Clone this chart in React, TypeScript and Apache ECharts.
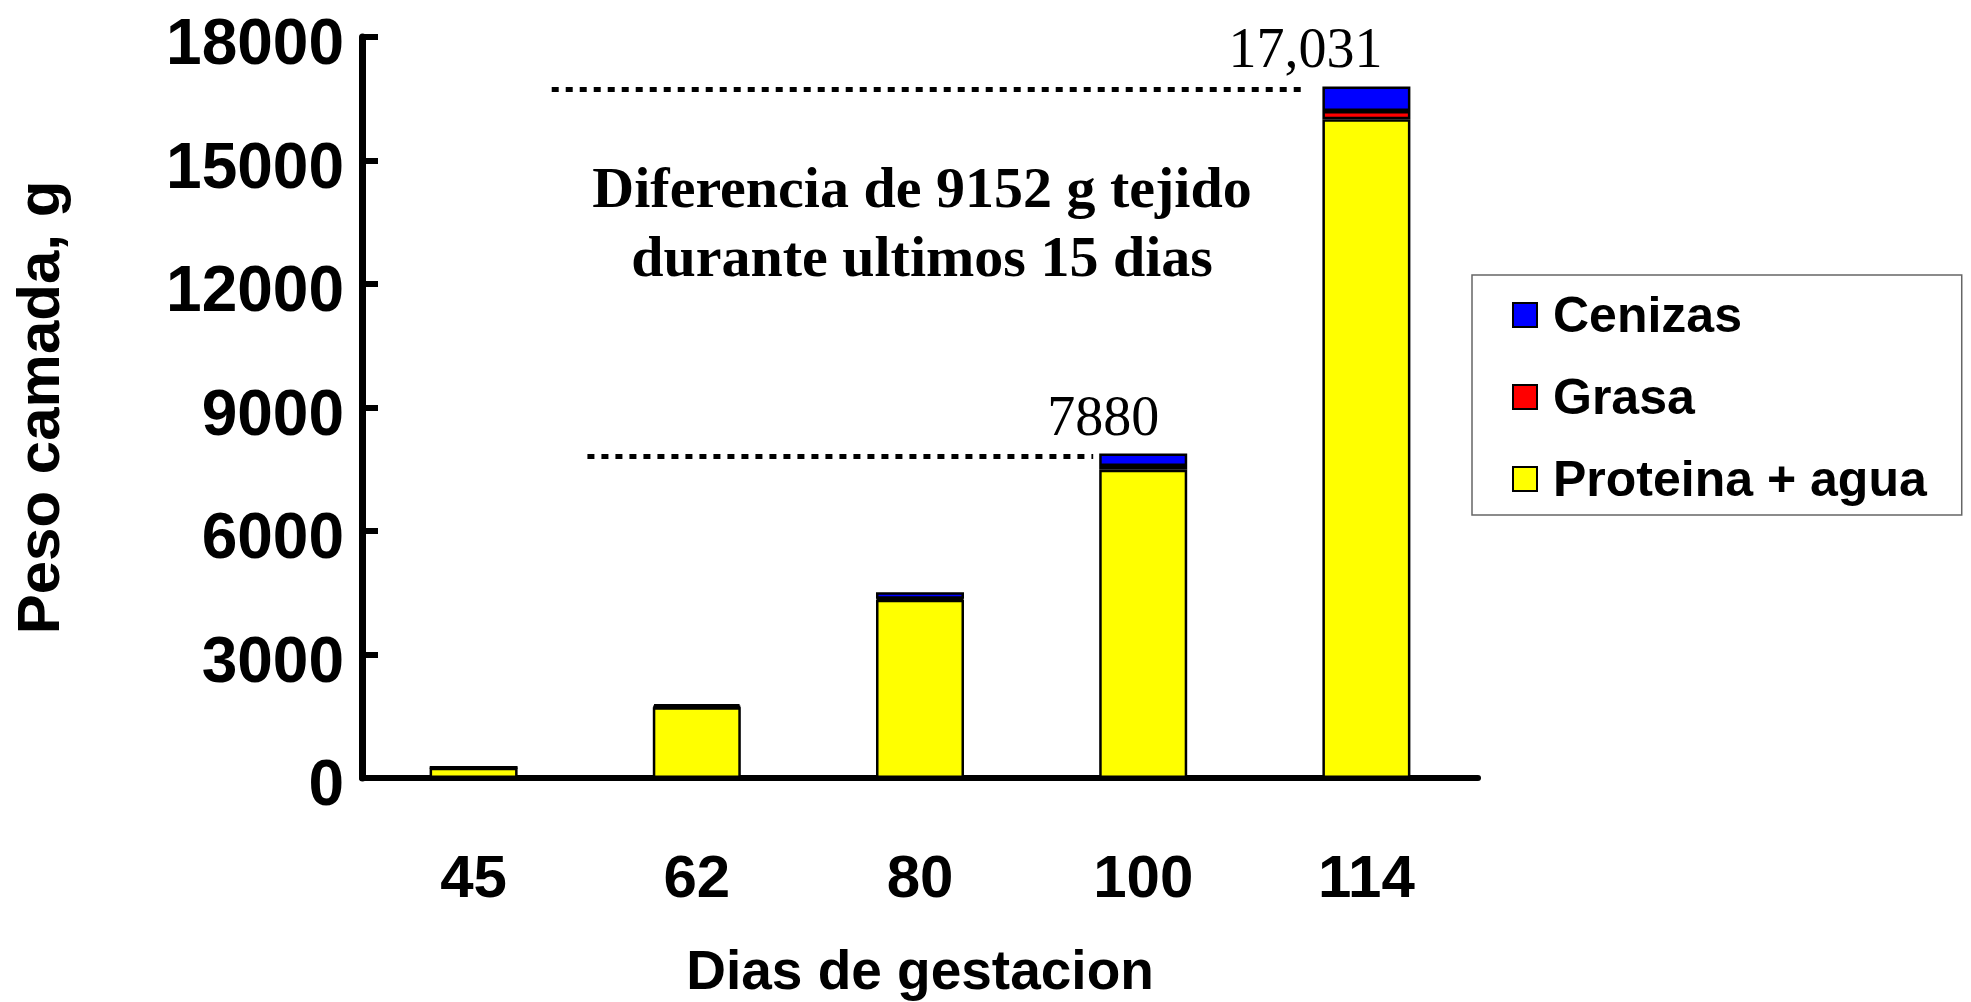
import React, { useEffect, useRef } from "react";
import * as echarts from "echarts";

const categories = ["45", "62", "80", "100", "114"];
const proteinaAgua = [250, 1720, 4330, 7490, 16000];
const grasa = [5, 20, 25, 90, 200];
const cenizas = [15, 60, 160, 300, 600];
const topLabels = ["", "", "", "7880", "17,031"];
const yTicks = [0, 3000, 6000, 9000, 12000, 15000, 18000];
const annotation = ["Diferencia de 9152 g tejido", "durante ultimos 15 dias"];

const SANS = "'Liberation Sans', Arial, sans-serif";
const SERIF = "'Liberation Serif', 'Times New Roman', serif";

export default function App() {
  const ref = useRef<HTMLDivElement>(null);
  useEffect(() => {
    if (!ref.current) return;
    const chart = echarts.init(ref.current, null, { renderer: "svg" });
    const barStyle = (color: string) => ({ color, borderColor: "#000", borderWidth: 2.5 });
    const totals = categories.map((_, i) => proteinaAgua[i] + grasa[i] + cenizas[i]);
    const option: any = {
      animation: false,
      backgroundColor: "#fff",
      grid: { left: 356, right: 493, top: 32.5, bottom: 219.5, containLabel: false },
      legend: {
        orient: "vertical",
        left: 1472,
        top: 275,
        data: ["Cenizas", "Grasa", "Proteina + agua"],
        itemWidth: 24,
        itemHeight: 24,
        itemGap: 32,
        padding: [15, 35, 11, 40],
        borderColor: "#666",
        borderWidth: 1.5,
        icon: "rect",
        textStyle: { fontFamily: SANS, fontWeight: "bold", fontSize: 50, color: "#000", lineHeight: 50, padding: [0, 0, 0, 11] },
      },
      xAxis: {
        type: "category",
        data: categories,
        axisLine: { show: true, lineStyle: { color: "#000", width: 6 } },
        axisTick: { show: false },
        axisLabel: { fontFamily: SANS, fontWeight: "bold", fontSize: 60, color: "#000", margin: 68 },
        name: "Dias de gestacion",
        nameLocation: "middle",
        nameGap: 164,
        nameTextStyle: { fontFamily: SANS, fontWeight: "bold", fontSize: 55, color: "#000" },
      },
      yAxis: {
        type: "value",
        min: yTicks[0],
        max: yTicks[yTicks.length - 1],
        interval: 3000,
        axisLine: { show: true, lineStyle: { color: "#000", width: 7 } },
        axisTick: { show: true, inside: true, length: 16, lineStyle: { color: "#000", width: 6 } },
        splitLine: { show: false },
        axisLabel: {
          margin: 18,
          formatter: (v: number) => `{v|${v}}`,
          rich: {
            v: {
              fontFamily: SANS,
              fontWeight: "bold",
              fontSize: 64,
              lineHeight: 46,
              padding: [10, 0, 0, 0],
              color: "#000",
            },
          },
        },
        name: "Peso camada, g",
        nameLocation: "middle",
        nameGap: 294,
        nameRotate: 90,
        nameTextStyle: { fontFamily: SANS, fontWeight: "bold", fontSize: 60, color: "#000" },
      },
      series: [
        { name: "Proteina + agua", type: "bar", stack: "t", barWidth: 88, data: proteinaAgua, itemStyle: barStyle("#FFFF00") },
        { name: "Grasa", type: "bar", stack: "t", barWidth: 88, data: grasa, itemStyle: barStyle("#FF0000") },
        {
          name: "Cenizas",
          type: "bar",
          stack: "t",
          barWidth: 88,
          itemStyle: barStyle("#0000FF"),
          data: cenizas.map((v, i) =>
            topLabels[i]
              ? {
                  value: v,
                  label: {
                    show: true,
                    position: "top",
                    align: "right",
                    distance: 6,
                    offset: [16, -4],
                    formatter: topLabels[i],
                    fontFamily: SERIF,
                    fontSize: 56,
                    color: "#000",
                  },
                }
              : v
          ),
        },
      ],
    };
    chart.setOption(option);

    const p = (i: number, v: number) => chart.convertToPixel({ xAxisIndex: 0, yAxisIndex: 0 }, [i, v]) as number[];
    const band = p(1, 0)[0] - p(0, 0)[0];
    const halfBar = 44;
    const upperY = p(4, totals[4])[1] + 3;
    const lowerY = p(3, totals[3])[1] + 3;
    const lineStyle = { stroke: "#000", lineWidth: 5, lineDash: [7, 7] };
    chart.setOption({
      graphic: [
        {
          type: "line",
          shape: { x1: p(0, 0)[0] + band * 0.35, y1: upperY, x2: p(4, 0)[0] - halfBar - 20, y2: upperY },
          style: lineStyle,
          z: 10,
        },
        {
          type: "line",
          shape: { x1: p(0, 0)[0] + band * 0.51, y1: lowerY, x2: p(3, 0)[0] - halfBar - 6, y2: lowerY },
          style: lineStyle,
          z: 10,
        },
        {
          type: "text",
          x: 922,
          y: 222,
          style: {
            text: annotation.join("\n"),
            textAlign: "center",
            textVerticalAlign: "middle",
            fontFamily: SERIF,
            fontWeight: "bold",
            fontSize: 58,
            lineHeight: 69,
            fill: "#000",
          },
          z: 10,
        },
      ],
    });
    return () => chart.dispose();
  }, []);
  return <div ref={ref} style={{ position: "fixed", left: 0, top: 0, width: 1971, height: 1002 }} />;
}
